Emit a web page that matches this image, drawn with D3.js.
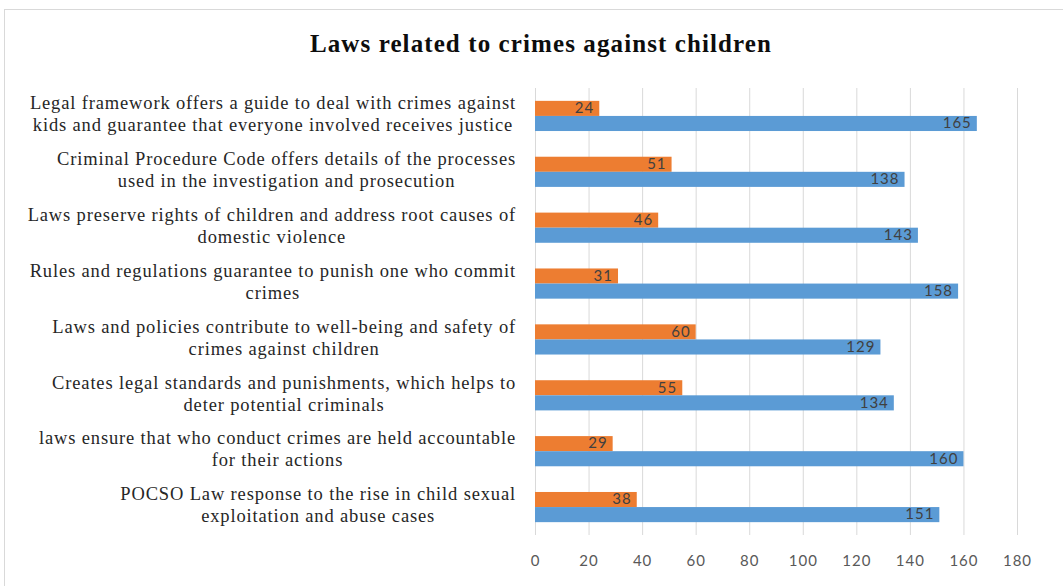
<!DOCTYPE html>
<html lang="en">
<head>
<meta charset="UTF-8">
<title>Laws related to crimes against children</title>
<script src="https://d3js.org/d3.v7.min.js"></script>
<style>
  body { margin: 0; background: #fff; }
  .cat-label { font-family: "Liberation Serif", "Times New Roman", serif; font-size: 18.5px; letter-spacing: 0.85px; fill: #262626; }
  .tick-label { font-family: Lato, "Open Sans", sans-serif; font-size: 15px; letter-spacing: 1px; fill: #595959; }
  .val-label { font-family: Lato, "Open Sans", sans-serif; font-size: 15px; letter-spacing: 1px; fill: #404040; }
</style>
</head>
<body>
<script>

// ================== DATA ==================
var categories = [
  ["Legal framework offers a guide to deal with crimes against", "kids and guarantee that everyone involved receives justice"],
  ["Criminal Procedure Code offers details of the processes", "used in the investigation and prosecution"],
  ["Laws preserve rights of children and address root causes of", "domestic violence"],
  ["Rules and regulations guarantee to punish one who commit", "crimes"],
  ["Laws and policies contribute to well-being and safety of", "crimes against children"],
  ["Creates legal standards and punishments, which helps to", "deter potential criminals"],
  ["laws ensure that who conduct crimes are held accountable", "for their actions"],
  ["POCSO Law response to the rise in child sexual", "exploitation and abuse cases"]
];
var orangeValues = [24, 51, 46, 31, 60, 55, 29, 38];
var blueValues = [165, 138, 143, 158, 129, 134, 160, 151];
var tickValues = [0, 20, 40, 60, 80, 100, 120, 140, 160, 180];

// ================== CANVAS ==================
var w = 1063, h = 586;
var margin = { top: 88, bottom: 51, left: 535, right: 46 };
var width = w - margin.left - margin.right;
var height = h - margin.top - margin.bottom;

var svg = d3.select("body").append("svg")
  .attr("width", w)
  .attr("height", h);

// outer frame
svg.append("rect")
  .attr("x", 4.5).attr("y", 9.5)
  .attr("width", w + 10).attr("height", h + 10)
  .attr("fill", "#fff")
  .attr("stroke", "#d9d9d9");

svg.append("text")
  .attr("x", 541).attr("y", 52)
  .attr("text-anchor", "middle")
  .style("font-family", "'Liberation Serif', 'Times New Roman', serif")
  .style("font-weight", "bold")
  .style("font-size", "25px")
  .style("letter-spacing", "1.1px")
  .style("fill", "#0d0d0d")
  .text("Laws related to crimes against children");

var chart = svg.append("g")
  .attr("transform", "translate(" + margin.left + "," + margin.top + ")");

// ================== SCALES ==================
var x = d3.scaleLinear().domain([0, 180]).range([0, width]);
var idx = d3.range(categories.length);
var y = d3.scaleBand().domain(idx).range([0, height]).paddingInner(0.46).paddingOuter(0.23);
var sub = d3.scaleBand().domain(["orange", "blue"]).range([0, y.bandwidth()]);
var colors = { orange: "#ED7D31", blue: "#5B9BD5" };

// ================== GRIDLINES ==================
var xGrid = d3.axisBottom(x).tickValues(tickValues).tickSize(height).tickFormat("");
chart.append("g").call(xGrid)
  .call(function(g) {
    g.select(".domain").remove();
    g.selectAll("line").attr("stroke", "#d9d9d9");
  });

// ================== AXIS LABELS ==================
var xAxis = d3.axisBottom(x).tickValues(tickValues).tickSize(0).tickPadding(20);
chart.append("g")
  .attr("transform", "translate(0," + height + ")")
  .call(xAxis)
  .call(function(g) {
    g.select(".domain").remove();
    g.selectAll("text").attr("class", "tick-label").attr("fill", null);
  });

// ================== BARS ==================
var rows = idx.map(function(i) {
  return [
    { key: "orange", i: i, value: orangeValues[i] },
    { key: "blue", i: i, value: blueValues[i] }
  ];
});

var groups = chart.selectAll(".cat")
  .data(rows)
  .enter().append("g")
  .attr("class", "cat")
  .attr("transform", function(d, i) { return "translate(0," + y(i) + ")"; });

groups.selectAll("rect")
  .data(function(d) { return d; })
  .enter().append("rect")
  .attr("x", x(0))
  .attr("y", function(d) { return sub(d.key); })
  .attr("width", function(d) { return x(d.value) - x(0); })
  .attr("height", sub.bandwidth())
  .attr("fill", function(d) { return colors[d.key]; });

groups.selectAll(".val-label")
  .data(function(d) { return d; })
  .enter().append("text")
  .attr("class", "val-label")
  .attr("x", function(d) { return x(d.value) - 5; })
  .attr("y", function(d) { return sub(d.key) + sub.bandwidth() / 2 + 1; })
  .attr("text-anchor", "end")
  .attr("dominant-baseline", "middle")
  .text(function(d) { return d.value; });

// ================== CATEGORY LABELS ==================
var labelRight = 516;
categories.forEach(function(lines, i) {
  var cy = margin.top + y(i) + y.bandwidth() / 2;
  var g = svg.append("g");
  var texts = g.selectAll("text")
    .data(lines)
    .enter().append("text")
    .attr("class", "cat-label")
    .attr("text-anchor", "middle")
    .attr("x", 0)
    .attr("y", function(d, j) { return cy + (j - (lines.length - 1) / 2) * 22; })
    .attr("dominant-baseline", "middle")
    .text(function(d) { return d; });
  var maxW = 0;
  texts.each(function() { maxW = Math.max(maxW, this.getComputedTextLength()); });
  g.attr("transform", "translate(" + (labelRight - maxW / 2) + ",0)");
});

</script>
</body>
</html>
